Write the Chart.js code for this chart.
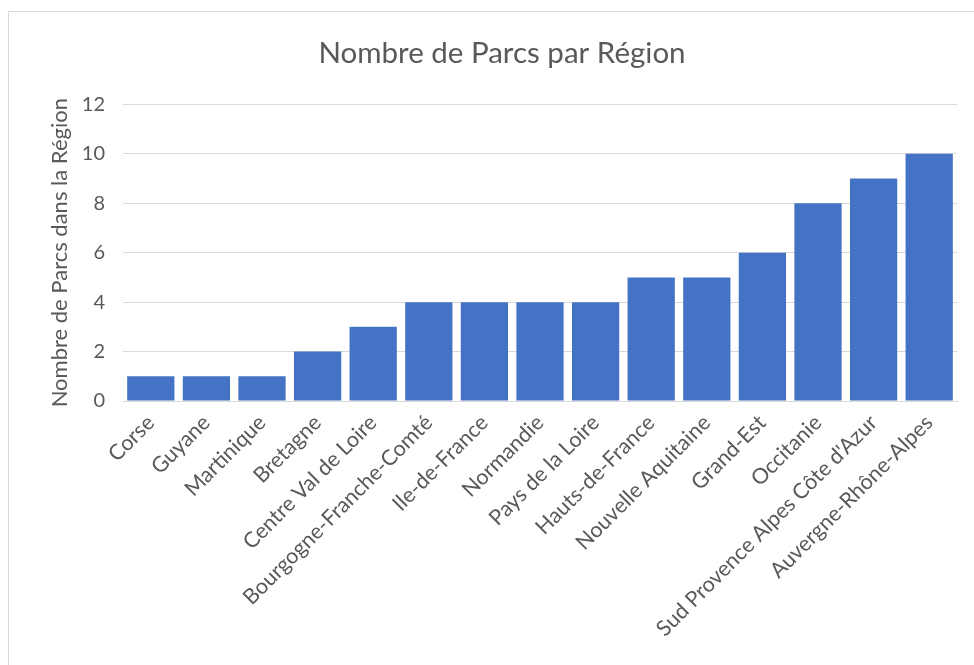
<!DOCTYPE html>
<html>
<head>
<meta charset="utf-8">
<script src="https://cdn.jsdelivr.net/npm/chart.js@4"></script>
<style>
  html, body { margin: 0; padding: 0; background: #fff; overflow: hidden; }
  #frame {
    position: absolute; left: 8px; top: 11px; width: 1000px; height: 700px;
    border: 1px solid #d9d9d9; box-sizing: border-box;
  }
  #box { position: absolute; left: 9px; top: 12px; width: 965px; height: 653px; }
</style>
</head>
<body>
<div id="frame"></div>
<div id="box"><canvas id="myChart"></canvas></div>
<script>
// Categories and values
const regions = [
    'Corse', 'Guyane', 'Martinique', 'Bretagne', 'Centre Val de Loire',
    'Bourgogne-Franche-Comté', 'Ile-de-France', 'Normandie', 'Pays de la Loire',
    'Hauts-de-France', 'Nouvelle Aquitaine', 'Grand-Est', 'Occitanie',
    'Sud Provence Alpes Côte d\'Azur', 'Auvergne-Rhône-Alpes'
];
const parcs = [1, 1, 1, 2, 3, 4, 4, 4, 4, 5, 5, 6, 8, 9, 10];
const yTicks = [0, 2, 4, 6, 8, 10, 12];

const font = "Lato, 'Open Sans', sans-serif";
const grey = '#595959';

const ctx = document.getElementById('myChart').getContext('2d');
new Chart(ctx, {
    type: 'bar',
    data: {
        labels: regions,
        datasets: [{
            data: parcs,
            backgroundColor: '#4472C4',
            barPercentage: 0.85,
            categoryPercentage: 1.0
        }]
    },
    options: {
        responsive: true,
        maintainAspectRatio: false,
        animation: false,
        layout: { padding: { left: 38, right: 17, top: 24, bottom: 0 } },
        plugins: {
            legend: { display: false },
            tooltip: { enabled: false },
            title: {
                display: true,
                text: 'Nombre de Parcs par Région',
                color: grey,
                font: { family: font, size: 29.5, weight: 'normal' },
                padding: { top: 0, bottom: 33 }
            }
        },
        scales: {
            x: {
                grid: { display: false, drawTicks: false },
                border: { display: true, color: '#d9d9d9', width: 1 },
                ticks: {
                    color: grey,
                    font: { family: font, size: 21.5 },
                    minRotation: 45,
                    maxRotation: 45,
                    autoSkip: false,
                    padding: 9
                },
                afterFit: axis => {
                    axis.height = 264;
                    axis.paddingLeft = 0;
                    axis.paddingRight = 0;
                }
            },
            y: {
                min: 0,
                max: 12,
                afterBuildTicks: axis => { axis.ticks = yTicks.map(v => ({ value: v })); },
                grid: { color: '#d9d9d9', drawTicks: false },
                border: { display: false },
                ticks: {
                    color: grey,
                    font: { family: font, size: 20 },
                    padding: 18
                },
                title: {
                    display: true,
                    text: 'Nombre de Parcs dans la Région',
                    color: grey,
                    font: { family: font, size: 22, weight: 'normal' },
                    padding: { top: 0, bottom: 4 }
                },
                afterFit: axis => { axis.width = 76; }
            }
        }
    }
});
</script>
</body>
</html>
